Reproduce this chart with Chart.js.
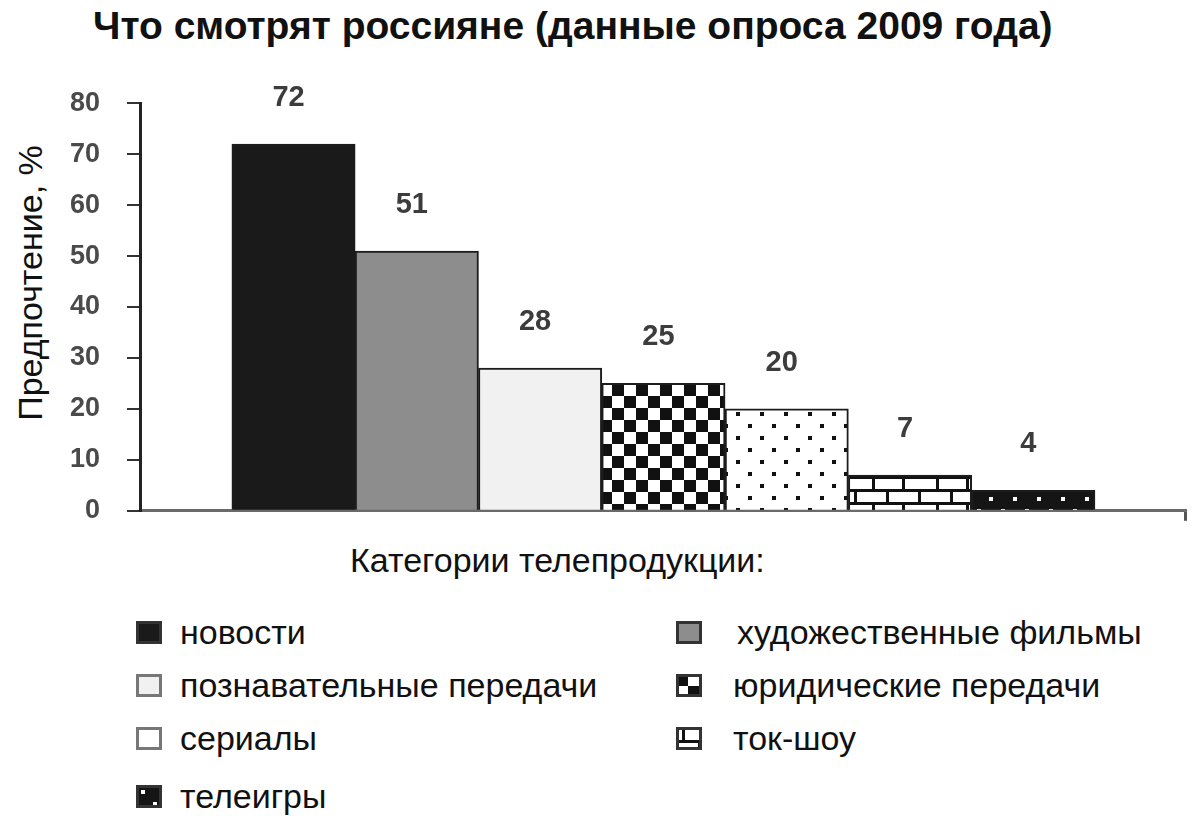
<!DOCTYPE html>
<html>
<head>
<meta charset="utf-8">
<script src="https://cdn.jsdelivr.net/npm/chart.js@4"></script>
<style>
  body { margin: 0; background: #fff; width: 1200px; height: 818px; position: relative; overflow: hidden;
         font-family: "Liberation Sans", Arial, sans-serif; color: #111; }
  #title { position: absolute; left: 93px; top: 6px; font-size: 39px; font-weight: bold; line-height: 1; white-space: nowrap; }
  #ytitle { position: absolute; left: 30px; top: 283px; font-size: 34px; line-height: 1; white-space: nowrap;
            transform: translate(-50%, -50%) rotate(-90deg); }
  #xtitle { position: absolute; left: 350px; top: 543px; font-size: 34px; line-height: 1; white-space: nowrap; }
  #chart { position: absolute; left: 0; top: 60px; }
  .item { position: absolute; height: 23px; display: flex; align-items: center; white-space: nowrap; font-size: 34px; }
  .item canvas { display: block; }
</style>
</head>
<body>
<div id="title">Что смотрят россияне (данные опроса 2009 года)</div>
<div id="ytitle">Предпочтение, %</div>
<div id="xtitle">Категории телепродукции:</div>
<canvas id="chart" width="1200" height="494"></canvas>
<div id="legend"></div>

<script>
// data
const categories = ['новости', 'художественные фильмы', 'познавательные передачи', 'юридические передачи', 'сериалы', 'ток-шоу', 'телеигры']
const values = [72, 51, 28, 25, 20, 7, 4]
const fills = ['solid-dark', 'gray', 'light', 'checker', 'dots', 'brick', 'dark-dots']
const yMin = 0
const yMax = 80
const yStep = 10

// small tiles for the hatched bars
function makeTile(kind) {
    let c = document.createElement('canvas')
    let g = c.getContext('2d')
    if (kind == 'checker') {
        c.width = 24; c.height = 24
        g.fillStyle = '#fff'; g.fillRect(0, 0, 24, 24)
        g.fillStyle = '#111'
        g.fillRect(0, 0, 12, 12); g.fillRect(12, 12, 12, 12)
    } else if (kind == 'dots') {
        c.width = 24; c.height = 24
        g.fillStyle = '#fff'; g.fillRect(0, 0, 24, 24)
        g.fillStyle = '#111'
        g.fillRect(4, 4, 4, 4); g.fillRect(16, 16, 4, 4)
    } else if (kind == 'brick') {
        c.width = 64; c.height = 26
        g.fillStyle = '#fff'; g.fillRect(0, 0, 64, 26)
        g.fillStyle = '#111'
        g.fillRect(0, 0, 64, 3); g.fillRect(0, 13, 64, 3)
        g.fillRect(6, 0, 3, 13); g.fillRect(40, 0, 3, 13)
        g.fillRect(22, 13, 3, 13); g.fillRect(54, 13, 3, 13)
    } else if (kind == 'dark-dots') {
        c.width = 24; c.height = 24
        g.fillStyle = '#151515'; g.fillRect(0, 0, 24, 24)
        g.fillStyle = '#fff'
        g.fillRect(5, 5, 4, 4); g.fillRect(17, 17, 4, 4)
    }
    return c
}

function fillFor(g, kind) {
    if (kind == 'solid-dark') return '#1a1a1a'
    if (kind == 'gray') return '#8d8d8d'
    if (kind == 'light') return '#f1f1f1'
    return g.createPattern(makeTile(kind), 'repeat')
}

let ctx = document.getElementById('chart').getContext('2d')
let barFills = fills.map(k => fillFor(ctx, k))

// numbers above each bar
const barLabels = {
    id: 'barLabels',
    afterDatasetsDraw(chart) {
        let g = chart.ctx
        g.save()
        g.font = 'bold 29px "Liberation Sans", Arial, sans-serif'
        g.fillStyle = '#3c3c3c'
        g.textAlign = 'center'
        g.textBaseline = 'alphabetic'
        chart.getDatasetMeta(0).data.forEach((bar, i) => {
            g.fillText(values[i], bar.x - 5, bar.y - 38)
        })
        g.restore()
    }
}

let chart = new Chart(ctx, {
    type: 'bar',
    data: {
        datasets: [{
            data: values.map((v, i) => ({ x: i, y: v })),
            backgroundColor: barFills,
            borderColor: '#1c1c1c',
            borderWidth: 2,
            barPercentage: 1,
            categoryPercentage: 1
        }]
    },
    options: {
        responsive: false,
        animation: false,
        layout: { padding: { top: 43, right: 15, left: 0, bottom: 0 } },
        plugins: { legend: { display: false }, tooltip: { enabled: false } },
        scales: {
            x: {
                type: 'linear',
                offset: false,
                min: -1.245,
                max: 7.23,
                afterBuildTicks: s => { s.ticks = [{ value: s.max }] },
                afterFit: s => { s.height = 20 },
                ticks: { display: false },
                grid: { offset: false, drawOnChartArea: false, drawTicks: true, tickLength: 10, color: '#555', lineWidth: 3 },
                border: { color: '#6a6a6a', width: 3 }
            },
            y: {
                min: yMin,
                max: yMax,
                afterFit: s => { s.width = 140 },
                ticks: {
                    stepSize: yStep,
                    padding: 27,
                    color: '#4a4a4a',
                    font: { family: '"Liberation Sans", Arial, sans-serif', size: 27, weight: 'bold' }
                },
                grid: { drawOnChartArea: false, drawTicks: true, tickLength: 13, color: '#333', lineWidth: 2 },
                border: { color: '#222', width: 3 }
            }
        }
    },
    plugins: [barLabels]
})

// legend: two columns, row-major like the original
let legend = document.getElementById('legend')
let rowTops = [621, 674, 727, 785]
categories.forEach((name, i) => {
    let col = i % 2, row = Math.floor(i / 2)
    let item = document.createElement('div')
    item.className = 'item'
    item.style.left = (col == 0 ? 136 : 676) + 'px'
    item.style.top = rowTops[row] + 'px'
    let sw = document.createElement('canvas')
    sw.width = 26; sw.height = 23
    let g = sw.getContext('2d')
    g.fillStyle = fills[i] == 'dots' ? '#fff' : fillFor(g, fills[i])
    g.fillRect(0, 0, 26, 23)
    g.strokeStyle = fills[i] == 'light' || fills[i] == 'dots' ? '#777' : '#333'
    g.lineWidth = 3
    g.strokeRect(1.5, 1.5, 23, 20)
    item.appendChild(sw)
    let label = document.createElement('span')
    label.textContent = name
    label.style.marginLeft = (col == 0 ? 18 : (i == 1 ? 35 : 31)) + 'px'
    item.appendChild(label)
    legend.appendChild(item)
})
</script>
</body>
</html>
